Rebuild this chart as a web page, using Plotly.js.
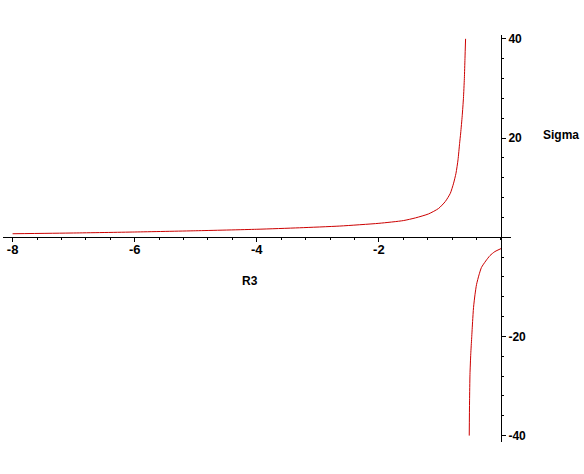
<!DOCTYPE html>
<html>
<head>
<meta charset="utf-8">
<script src="https://cdn.plot.ly/plotly-3.0.1.min.js"></script>
<style>html,body{margin:0;padding:0;background:#fff;}#chart{width:584px;height:474px;}</style>
</head>
<body>
<div id="chart"></div>
<script>
// Left branch (R3 < asymptote)
var leftR3 = [-8, -7, -6, -5, -4, -3.3, -2.64, -2, -1.6, -1.4, -1.186, -1.022, -0.912, -0.83, -0.776, -0.737, -0.704, -0.678, -0.66, -0.635, -0.615, -0.6, -0.59, -0.58];
var leftSigma = [0.7, 0.85, 1.05, 1.3, 1.6, 1.9, 2.25, 2.8, 3.35, 3.9, 4.7, 5.8, 7.2, 8.85, 10.9, 12.9, 15.6, 18.9, 21, 24.5, 28, 32, 36, 40];
// Right branch (R3 > asymptote)
var rightR3 = [-0.52, -0.515, -0.508, -0.495, -0.48, -0.465, -0.45, -0.425, -0.40, -0.36, -0.32, -0.25, -0.18, -0.1, 0];
var rightSigma = [-40, -33, -27.7, -23.5, -20.3, -17, -14.2, -11.5, -9.5, -7.6, -6.1, -4.8, -3.7, -2.9, -2.3];

var xTickVals = [-8, -6, -4, -2];
var xTickText = ['-8', '-6', '-4', '-2'];
var yTickVals = [-40, -20, 20, 40];
var yTickText = ['-40', '-20', '20', '40'];

var lineColor = 'rgb(204,0,0)';
var traces = [
  {x: leftR3, y: leftSigma, mode: 'lines', line: {color: lineColor, width: 1, shape: 'spline', smoothing: 0.6}, hoverinfo: 'none'},
  {x: rightR3, y: rightSigma, mode: 'lines', line: {color: lineColor, width: 1, shape: 'spline', smoothing: 0.6}, hoverinfo: 'none'}
];

var layout = {
  width: 584, height: 474,
  margin: {l: 3, r: 73, t: 35, b: 32, pad: 0},
  paper_bgcolor: '#fff', plot_bgcolor: '#fff',
  showlegend: false,
  xaxis: {
    range: [-8.157, 0.164],
    anchor: 'free', position: 0.5032,
    showline: true, linecolor: '#000', linewidth: 1,
    showgrid: false, zeroline: false,
    tickmode: 'array', tickvals: xTickVals, ticktext: xTickText,
    ticks: 'outside', ticklen: 4, tickcolor: '#000', tickwidth: 1,
    ticklabelstandoff: -4,
    tickfont: {family: 'Liberation Sans, Arial, sans-serif', size: 13, color: '#000', weight: 'bold'},
    minor: {tickmode: 'linear', tick0: 0, dtick: 0.4, ticks: 'outside', ticklen: 2, tickcolor: '#000', showgrid: false}
  },
  yaxis: {
    range: [-41.29, 40.77],
    anchor: 'free', position: 0.9803, side: 'right',
    showline: true, linecolor: '#000', linewidth: 1,
    showgrid: false, zeroline: false,
    tickmode: 'array', tickvals: yTickVals, ticktext: yTickText,
    ticks: 'outside', ticklen: 4, tickcolor: '#000', tickwidth: 1,
    ticklabelstandoff: 0,
    tickfont: {family: 'Liberation Sans, Arial, sans-serif', size: 12, color: '#000', weight: 'bold'},
    minor: {tickmode: 'linear', tick0: 0, dtick: 4, ticks: 'outside', ticklen: 2, tickcolor: '#000', showgrid: false}
  },
  annotations: [
    {text: 'R3', xref: 'paper', yref: 'paper', x: 0.486, y: 0.3956, xanchor: 'center', yanchor: 'middle', showarrow: false,
     font: {family: 'Liberation Sans, Arial, sans-serif', size: 12, color: '#000', weight: 'bold'}},
    {text: 'Sigma', xref: 'paper', yref: 'paper', x: 1.098, y: 0.754, xanchor: 'center', yanchor: 'middle', showarrow: false,
     font: {family: 'Liberation Sans, Arial, sans-serif', size: 12, color: '#000', weight: 'bold'}}
  ]
};

Plotly.newPlot('chart', traces, layout, {displayModeBar: false, staticPlot: true});
</script>
</body>
</html>
